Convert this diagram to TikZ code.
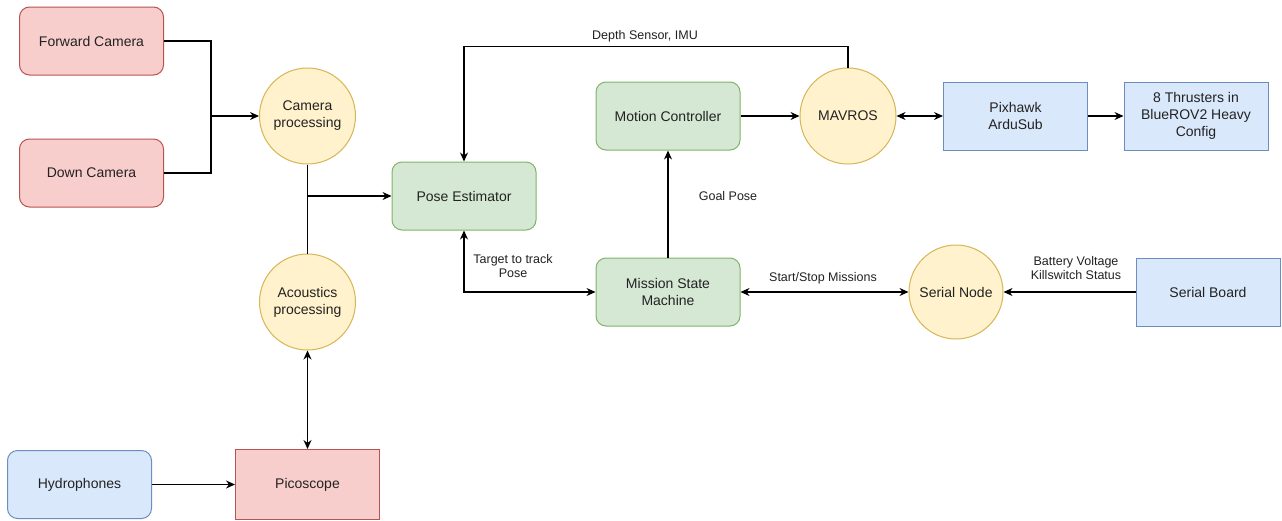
\documentclass[tikz,border=0pt]{standalone}
\usepackage{fontspec}
\setmainfont{Liberation Sans}
\usetikzlibrary{arrows.meta}
\definecolor{redfill}{HTML}{F8CECC}\definecolor{redline}{HTML}{B85450}
\definecolor{yelfill}{HTML}{FFF2CC}\definecolor{yelline}{HTML}{D6B656}
\definecolor{grnfill}{HTML}{D5E8D4}\definecolor{grnline}{HTML}{82B366}
\definecolor{blufill}{HTML}{DAE8FC}\definecolor{bluline}{HTML}{6C8EBF}
\definecolor{txt}{HTML}{222222}
\tikzset{
  base/.style={draw, line width=1pt, minimum width=144pt, minimum height=68pt, align=center, text=txt, font=\fontsize{14}{17}\selectfont, inner sep=2pt},
  redbox/.style={base, fill=redfill, draw=redline, rounded corners=10pt},
  redsq/.style={base, fill=redfill, draw=redline},
  grnbox/.style={base, fill=grnfill, draw=grnline, rounded corners=10pt},
  blubox/.style={base, fill=blufill, draw=bluline, rounded corners=10pt},
  blusq/.style={base, fill=blufill, draw=bluline},
  proc/.style={circle, draw=yelline, fill=yelfill, line width=1pt, minimum size=96pt, inner sep=0pt, align=center, text=txt, font=\fontsize{14}{17}\selectfont},
  conn/.style={line width=1.2pt, draw=black},
  arr/.style={conn, -{Stealth[length=9pt,width=8pt]}},
  darr/.style={conn, {Stealth[length=9pt,width=8pt]}-{Stealth[length=9pt,width=8pt]}},
  lbl/.style={text=txt, font=\fontsize{12.5}{14}\selectfont, align=center, inner sep=0pt}
}
\begin{document}
\begin{tikzpicture}[x=1pt,y=-1pt]
\path[use as bounding box, fill=white] (0,0) rectangle (1282,520);
% nodes
\node[redbox] (fc) at (91.5,41) {Forward Camera};
\node[redbox] (dc) at (91.5,173) {Down Camera};
\node[proc] (cp) at (307.5,116) {Camera\\processing};
\node[proc] (ap) at (307.5,302) {Acoustics\\processing};
\node[blubox] (hyd) at (79.5,484.5) {Hydrophones};
\node[redsq, minimum height=70pt] (pico) at (307.5,484.5) {Picoscope};
\node[grnbox] (pe) at (464,196) {Pose Estimator};
\node[grnbox] (mc) at (668,116) {Motion Controller};
\node[grnbox] (msm) at (668,292) {Mission State\\Machine};
\node[proc] (mav) at (848,116) {MAVROS};
\node[blusq] (pix) at (1015.5,116) {Pixhawk\\ArduSub};
\node[blusq] (thr) at (1196,116) {8 Thrusters in\\BlueROV2 Heavy\\Config};
\node[proc, minimum size=94pt] (sn) at (956,292) {Serial Node};
\node[blusq] (sb) at (1208,292) {Serial Board};
% connectors
\coordinate (j1) at (211,116);
\draw[conn] (fc.east) -| (j1);
\draw[conn] (dc.east) -| (j1);
\draw[arr] (j1) -- (cp.west);
\draw[conn] (cp.south) -- (ap.north);
\coordinate (j2) at (307.5,196);
\draw[arr] (j2) -- (pe.west);
\draw[darr] (ap.south) -- (pico.north);
\draw[arr] (hyd.east) -- (pico.west);
\draw[arr] (mav.north) -- ++(0,-21) -| (pe.north);
\node[lbl] (ldepth) at (645,36) {Depth Sensor, IMU};
\draw[arr] (mc.east) -- (mav.west);
\draw[arr] (msm.north) -- (mc.south);
\node[lbl] (lgoal) at (728,196) {Goal Pose};
\draw[darr] (pe.south) |- (msm.west);
\node[lbl] (ltarget) at (513,266) {Target to track\\Pose};
\draw[darr] (msm.east) -- (sn.west);
\node[lbl] (lstart) at (823,278) {Start/Stop Missions};
\draw[arr] (sb.west) -- (sn.east);
\node[lbl] (lbatt) at (1076,268) {Battery Voltage\\Killswitch Status};
\draw[darr] (mav.east) -- (pix.west);
\draw[arr] (pix.east) -- (thr.west);
\end{tikzpicture}
\end{document}
